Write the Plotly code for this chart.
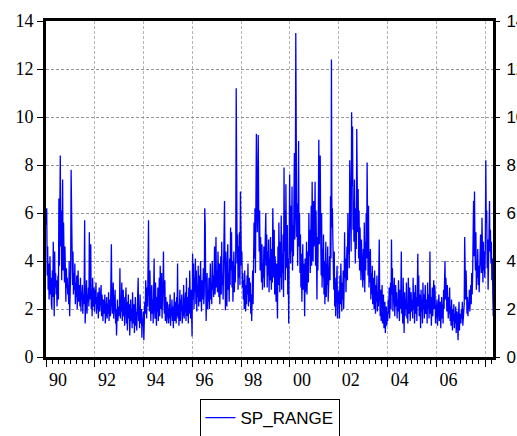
import plotly.graph_objects as go
import pandas as pd

# Weekly SP_RANGE values, one list per year
v1990 = [5.5, 6.2, 3.4, 4.6, 2.8, 3.9, 2.4, 3.1, 4.2, 2.6, 3.3, 2.2, 2.0, 3.6, 2.5, 4.8, 3.0,
         1.7, 4.4, 2.9, 3.5, 2.6, 3.2, 2.1, 2.7, 3.4, 2.4, 6.6, 3.8, 5.2, 8.4, 4.6, 6.1,
         3.2, 4.9, 7.4, 3.6, 5.6, 4.2, 3.1, 4.6, 3.5, 2.3, 3.7, 2.9, 3.3, 2.6, 3.0, 2.2, 4.0, 1.7, 3.1]
v1991 = [3.6, 7.8, 6.1, 4.2, 3.0, 4.4, 2.6, 3.5, 2.8, 3.9, 2.2, 3.1, 2.5, 3.4, 2.0, 2.9, 3.6, 2.3,
         3.0, 2.6, 2.1, 3.3, 1.9, 2.7, 2.4, 3.0, 1.8, 2.6, 2.2, 3.1, 5.7, 1.4, 2.5, 2.0, 3.2, 1.8,
         2.6, 2.3, 2.9, 2.1, 5.2, 2.4, 3.6, 4.7, 2.0, 2.8, 1.7, 3.3, 2.5, 2.1, 2.9, 1.9]
v1992 = [2.8, 2.2, 3.1, 1.8, 2.5, 2.0, 2.7, 1.6, 2.3, 2.9, 1.9, 2.4, 2.1, 3.0, 1.7, 2.6, 2.2, 1.5,
         2.4, 2.0, 1.8, 2.6, 1.4, 2.1, 1.9, 2.5, 1.6, 2.2, 1.8, 2.7, 1.5, 2.0, 2.4, 1.7, 2.9, 4.7,
         2.2, 1.8, 2.6, 3.1, 1.6, 2.3, 1.9, 2.8, 1.4, 2.0, 0.9, 1.8, 2.4, 1.5, 2.1, 1.7]
v1993 = [2.0, 3.7, 1.6, 2.4, 1.9, 3.1, 1.5, 2.2, 2.8, 1.7, 2.5, 1.3, 2.1, 1.8, 2.9, 1.4, 2.3, 1.1,
         1.9, 2.6, 1.6, 2.2, 0.9, 1.7, 2.4, 1.5, 2.0, 1.2, 2.7, 1.8, 1.4, 2.2, 1.0, 1.6, 2.5, 1.3,
         1.9, 1.1, 2.3, 1.7, 3.3, 1.5, 2.1, 1.2, 2.6, 1.8, 1.4, 2.0, 0.8, 1.6, 1.3, 1.9]
v1994 = [0.7, 1.5, 2.3, 1.8, 3.2, 2.5, 1.6, 2.9, 2.1, 3.4, 5.7, 2.7, 1.9, 3.6, 2.2, 1.5, 2.6, 3.0,
         1.8, 2.4, 1.4, 2.8, 4.1, 2.0, 1.6, 3.1, 2.3, 1.3, 2.5, 1.9, 2.9, 1.5, 2.2, 3.3, 1.7, 3.8,
         2.4, 2.0, 3.5, 1.6, 2.7, 3.0, 4.4, 2.2, 1.8, 3.2, 1.5, 2.5, 2.0, 1.4, 2.3, 1.8]
v1995 = [1.9, 1.4, 2.2, 1.6, 2.6, 1.3, 2.0, 1.7, 2.4, 1.5, 2.1, 1.2, 1.8, 2.7, 1.5, 2.3, 1.9, 1.4,
         2.5, 1.7, 3.9, 1.6, 2.2, 1.3, 2.0, 2.8, 1.5, 2.4, 1.9, 2.6, 1.4, 2.1, 1.7, 3.0, 1.6, 2.3,
         1.9, 2.7, 1.5, 3.3, 2.0, 1.7, 2.5, 1.4, 2.9, 1.8, 3.6, 2.2, 1.6, 2.8, 1.2, 0.85]
v1996 = [4.3, 2.4, 3.9, 2.0, 3.3, 2.7, 4.1, 2.2, 3.6, 1.9, 3.0, 2.5, 3.8, 2.1, 2.8, 3.4, 2.3, 4.0,
         2.6, 1.9, 3.2, 2.4, 2.9, 3.7, 2.2, 2.7, 6.2, 5.5, 3.1, 1.5, 2.6, 3.5, 2.0, 2.8, 2.3, 3.3,
         2.0, 2.7, 3.9, 2.4, 3.1, 2.2, 4.0, 2.8, 3.4, 2.5, 3.7, 4.6, 2.6, 3.2, 5.0, 2.9]
v1997 = [3.6, 2.7, 4.4, 3.1, 2.5, 3.9, 2.2, 3.3, 4.2, 2.6, 4.8, 3.0, 3.4, 2.4, 3.3, 4.6, 6.5, 3.8,
         1.95, 4.4, 3.2, 2.1, 3.7, 4.7, 2.8, 3.5, 2.3, 4.1, 3.0, 5.4, 3.6, 5.2, 2.9, 4.0, 2.3, 3.3,
         4.4, 2.7, 3.8, 3.1, 4.5, 11.2, 6.0, 3.9, 5.1, 2.8, 4.6, 3.3, 5.2, 3.0, 6.9, 4.2]
v1998 = [3.8, 4.4, 2.9, 3.5, 2.4, 3.2, 2.0, 3.6, 2.7, 1.9, 3.0, 2.2, 3.4, 2.6, 3.9, 2.1, 2.8, 3.3,
         2.3, 3.1, 1.8, 2.6, 1.5, 2.9, 3.6, 2.2, 3.4, 5.6, 4.1, 6.2, 3.5, 7.8, 9.3, 6.4, 5.2, 7.5,
         9.25, 5.8, 4.4, 6.1, 3.6, 5.0, 4.2, 3.1, 4.7, 2.8, 3.9, 3.3, 4.6, 2.9, 4.0, 3.4]
v1999 = [6.0, 3.8, 5.1, 2.9, 4.4, 3.4, 4.9, 2.7, 4.1, 3.2, 5.0, 3.7, 2.8, 4.5, 3.1, 6.2, 4.0, 3.3,
         5.3, 2.6, 4.2, 3.5, 2.3, 3.9, 2.9, 1.6, 4.6, 3.0, 5.6, 3.6, 2.7, 4.8, 3.3, 5.9, 2.8, 4.3,
         3.5, 5.1, 2.5, 7.9, 4.4, 6.1, 3.2, 7.2, 4.9, 3.7, 5.5, 2.6, 4.1, 1.4, 3.9, 7.6]
v2000 = [5.2, 3.9, 6.3, 4.4, 7.1, 3.6, 5.5, 4.2, 6.6, 8.5, 4.9, 5.8, 13.5, 7.2, 5.0, 6.4, 3.8, 5.6,
         9.0, 4.6, 6.0, 3.5, 5.1, 2.9, 4.3, 2.3, 3.6, 4.7, 2.8, 3.9, 3.2, 1.7, 4.1, 2.7, 3.4, 4.8,
         2.6, 3.7, 4.4, 3.1, 6.0, 4.2, 5.3, 3.5, 4.9, 6.3, 3.8, 7.3, 5.1, 4.0, 6.5, 4.6]
v2001 = [5.5, 7.3, 3.8, 6.1, 4.4, 2.4, 5.0, 3.6, 6.3, 9.05, 4.7, 7.0, 8.4, 5.2, 3.4, 6.0, 2.9, 4.5,
         3.3, 5.1, 2.6, 4.0, 2.2, 3.7, 4.8, 2.5, 3.9, 3.0, 4.6, 2.3, 3.5, 2.8, 4.2, 3.2, 6.7, 4.1,
         12.4, 5.4, 6.2, 4.9, 3.6, 2.8, 4.4, 2.1, 3.3, 1.7, 2.9, 2.4, 3.8, 1.6, 2.7, 2.2]
v2002 = [2.8, 1.6, 3.4, 2.2, 3.9, 2.5, 1.9, 3.1, 2.4, 3.6, 2.0, 2.9, 5.2, 3.3, 4.1, 2.7, 3.8, 4.6,
         3.2, 6.0, 4.3, 5.0, 3.7, 8.2, 5.6, 6.8, 4.4, 10.2, 7.1, 9.6, 5.3, 6.5, 4.8, 7.4, 5.0, 3.9,
         6.2, 4.5, 9.5, 5.9, 5.2, 7.0, 4.1, 6.1, 3.6, 5.4, 4.7, 3.2, 4.9, 3.5, 4.2, 2.9]
v2003 = [4.5, 3.2, 5.6, 2.7, 4.8, 3.6, 6.0, 4.1, 8.1, 5.2, 3.4, 6.3, 2.9, 4.4, 3.1, 4.5, 2.4, 3.5,
         2.6, 3.8, 2.2, 3.3, 2.8, 2.0, 3.6, 2.5, 1.8, 3.0, 2.3, 3.4, 1.9, 2.7, 2.1, 3.2, 4.9, 2.4,
         1.7, 2.8, 1.5, 2.2, 3.0, 1.4, 2.0, 2.6, 1.2, 1.8, 2.3, 1.0, 1.6, 2.1, 1.3, 1.9]
v2004 = [1.5, 2.4, 1.8, 2.9, 1.6, 2.2, 3.1, 2.0, 4.9, 2.6, 3.7, 1.9, 2.8, 2.3, 3.3, 1.7, 2.5, 3.0,
         2.1, 2.7, 1.6, 2.4, 1.9, 3.2, 2.2, 1.5, 2.8, 2.0, 2.6, 4.4, 1.8, 2.3, 1.4, 3.3, 2.1, 1.0,
         2.7, 1.7, 2.4, 2.0, 3.1, 1.6, 2.2, 1.4, 3.3, 2.5, 1.8, 2.9, 1.5, 2.3, 2.7, 1.9]
v2005 = [2.4, 1.6, 3.3, 2.0, 2.7, 1.4, 2.2, 3.0, 1.8, 2.5, 1.5, 2.9, 4.3, 2.1, 3.4, 1.7, 2.6, 2.2,
         1.2, 2.8, 1.9, 2.4, 1.4, 3.1, 2.0, 2.6, 1.6, 2.3, 3.0, 1.8, 1.9, 2.4, 1.4, 3.1, 2.0, 2.6,
         1.6, 2.3, 4.4, 1.8, 2.5, 1.3, 2.1, 2.9, 1.7, 2.4, 3.2, 2.0, 3.0, 2.7, 1.4, 2.0]
v2006 = [1.8, 2.4, 1.3, 2.1, 1.7, 2.6, 1.5, 2.0, 2.3, 1.2, 1.9, 2.5, 1.6, 2.2, 1.4, 2.8, 2.0, 3.1,
         4.0, 2.4, 3.3, 2.7, 1.9, 3.0, 2.2, 1.6, 2.5, 1.8, 2.9, 1.5, 2.1, 1.3, 2.4, 1.7, 1.1, 2.0,
         1.5, 2.2, 1.2, 1.8, 1.4, 2.1, 1.0, 1.6, 1.9, 1.3, 0.7, 1.7, 2.3, 1.1, 1.8, 1.5]
v2007 = [1.4, 2.0, 1.6, 2.3, 1.3, 1.9, 1.7, 2.2, 5.0, 3.2, 2.4, 3.6, 2.1, 1.8, 2.5, 1.7, 2.3, 2.0,
         2.8, 1.9, 2.4, 3.0, 2.2, 3.5, 2.6, 3.4, 4.6, 6.5, 4.2, 6.9, 4.6, 3.6, 5.2, 2.8, 4.0, 3.3,
         4.5, 3.0, 3.8, 2.7, 4.3, 3.4, 5.1, 4.0, 3.5, 5.8, 4.2, 3.1, 4.8, 3.6, 4.4, 3.3]
v2008 = [4.5, 8.2, 5.6, 6.1, 3.7, 4.9, 2.8, 4.2, 3.6, 6.5, 4.4, 5.3, 3.9, 4.8, 3.2, 4.1, 2.6, 1.7]

years = list(range(1990, 2009))
yearly = [v1990, v1991, v1992, v1993, v1994, v1995, v1996, v1997, v1998, v1999,
          v2000, v2001, v2002, v2003, v2004, v2005, v2006, v2007, v2008]

y_ticks = [0, 2, 4, 6, 8, 10, 12, 14]
x_label_years = [1990, 1992, 1994, 1996, 1998, 2000, 2002, 2004, 2006]
x_labels = ["90", "92", "94", "96", "98", "00", "02", "04", "06"]

dates, values = [], []
for yr, vs in zip(years, yearly):
    dates += list(pd.date_range(f"{yr}-01-05", periods=len(vs), freq="7D"))
    values += vs

x_range = ["1990-01-01", "2008-04-29"]
SERIF = "serif"
SANS = "Arial"

fig = go.Figure()
fig.add_trace(go.Scatter(x=dates, y=values, mode="lines", name="SP_RANGE",
                         line=dict(color="#0000FF", width=1.3)))
fig.add_trace(go.Scatter(x=[], y=[], xaxis="x2", yaxis="y2", showlegend=False,
                         hoverinfo="skip"))

fig.update_layout(
    width=517, height=436,
    margin=dict(l=46, r=24, t=21, b=79, autoexpand=False),
    plot_bgcolor="white", paper_bgcolor="white",
    showlegend=True,
    legend=dict(orientation="h", x=0.5, xanchor="center", y=-0.125, yanchor="top",
                bordercolor="black", borderwidth=1,
                font=dict(family=SANS, size=17, color="black")),
    xaxis=dict(type="date", range=x_range, showline=True, linewidth=3, linecolor="black",
               mirror=True, tickmode="linear", tick0="1990-01-01", dtick="M24",
               ticks="outside", ticklen=7, tickwidth=1, tickcolor="black",
               showticklabels=False, showgrid=True, gridcolor="#b4b4b4", gridwidth=1,
               griddash="3px,2px", zeroline=False, automargin=False,
               minor=dict(dtick="M3", tick0="1990-01-01", ticks="outside", ticklen=4,
                          tickwidth=1, tickcolor="black", showgrid=False)),
    xaxis2=dict(type="date", range=x_range, overlaying="x", anchor="y", side="bottom",
                tickmode="array", tickvals=[f"{y}-07-01" for y in x_label_years],
                ticktext=x_labels, ticks="", showgrid=False, showline=False,
                zeroline=False, ticklabelstandoff=10, automargin=False,
                tickfont=dict(family=SERIF, size=18, color="black")),
    yaxis=dict(range=[0, 14], tickmode="array", tickvals=y_ticks,
               ticktext=[str(v) for v in y_ticks], showline=True, linewidth=3,
               linecolor="black", mirror=True, ticks="outside", ticklen=6, tickwidth=1,
               tickcolor="black", showgrid=True, gridcolor="#969696", griddash="3px,2px",
               gridwidth=1, zeroline=False, automargin=False,
               tickfont=dict(family=SERIF, size=18, color="black")),
    yaxis2=dict(range=[0, 14], overlaying="y", anchor="x", side="right",
                tickmode="array", tickvals=y_ticks, ticktext=[str(v) for v in y_ticks],
                ticks="outside", ticklen=6, tickwidth=1, tickcolor="black",
                showgrid=False, showline=False, zeroline=False, automargin=False,
                ticklabelstandoff=3,
                tickfont=dict(family=SANS, size=17, color="black")),
)

fig.write_html("out.html")
